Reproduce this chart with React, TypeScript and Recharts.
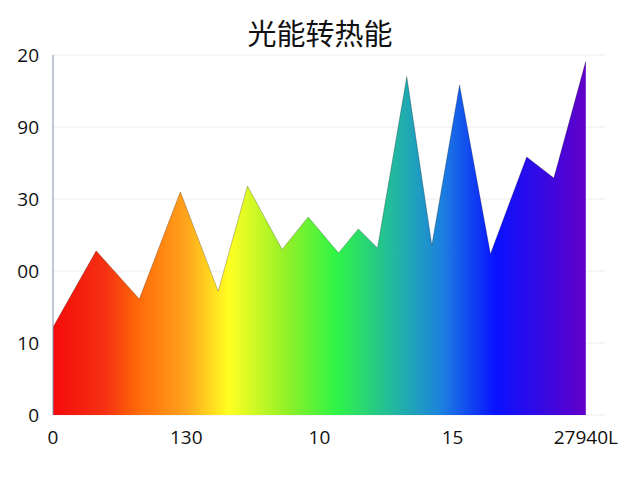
import { AreaChart, Area, XAxis, YAxis, CartesianGrid } from "recharts";

const X_VALUES = [0, 8.1, 16.2, 23.9, 31.0, 36.5, 43.0, 47.9, 53.6, 57.3, 60.9, 66.4, 71.1, 76.3, 82.1, 88.9, 94.0, 100];
const Y_VALUES = [24.4, 45.6, 32.2, 62, 34.4, 63.6, 46, 55, 45, 51.7, 46.4, 94, 47.2, 91.7, 44.7, 71.7, 65.8, 98.3];

const X_TICKS = [0, 25, 50, 75, 100];
const X_LABELS = ["0", "130", "10", "15", "27940L"];
const Y_TICKS = [0, 20, 40, 60, 80, 100];
const Y_LABELS = ["0", "10", "00", "30", "90", "20"];

const SPECTRUM = [
  { offset: 0, color: "#f50a0a" },
  { offset: 0.1, color: "#f53212" },
  { offset: 0.16, color: "#ff6a08" },
  { offset: 0.25, color: "#ffa41c" },
  { offset: 0.33, color: "#ffff22" },
  { offset: 0.44, color: "#90f028" },
  { offset: 0.53, color: "#30f545" },
  { offset: 0.64, color: "#22b8a0" },
  { offset: 0.73, color: "#1c80e0" },
  { offset: 0.83, color: "#0812ff" },
  { offset: 1, color: "#6200c8" },
];

const data = X_VALUES.map((x, i) => ({ x, y: Y_VALUES[i] }));

const tickStyle = { fill: "#111", fontSize: 19, fontFamily: "Open Sans" };

export default function App() {
  return (
    <div style={{ position: "absolute", left: 0, top: 0, width: 640, height: 480, background: "#fff" }}>
      <div
        style={{
          position: "absolute",
          top: 11,
          width: 640,
          textAlign: "center",
          fontFamily: "Noto Sans CJK SC",
          fontSize: 29,
          fontWeight: 400,
          color: "#111",
        }}
      >
        光能转热能
      </div>
      <AreaChart
        width={640}
        height={480}
        data={data}
        margin={{ top: 55, right: 35, left: 0, bottom: 30 }}
      >
        <defs>
          <linearGradient id="spectrum" x1="0" y1="0" x2="1" y2="0">
            {SPECTRUM.map((s) => (
              <stop key={s.offset} offset={s.offset} stopColor={s.color} />
            ))}
          </linearGradient>
        </defs>
        <CartesianGrid stroke="#ececec" vertical={false} />
        <XAxis
          dataKey="x"
          type="number"
          domain={[0, 103.6]}
          ticks={X_TICKS}
          tickFormatter={(v: number) => X_LABELS[X_TICKS.indexOf(v)]}
          tick={tickStyle}
          axisLine={false}
          tickLine={false}
          tickMargin={10}
          height={35}
        />
        <YAxis
          domain={[0, 100]}
          ticks={Y_TICKS}
          tickFormatter={(v: number) => Y_LABELS[Y_TICKS.indexOf(v)]}
          tick={tickStyle}
          axisLine={{ stroke: "#8090a8" }}
          tickLine={false}
          tickMargin={8}
          width={53}
        />
        <Area
          type="linear"
          dataKey="y"
          stroke="rgba(0,0,0,0.3)"
          strokeWidth={0.8}
          fill="url(#spectrum)"
          fillOpacity={1}
          isAnimationActive={false}
        />
      </AreaChart>
    </div>
  );
}
